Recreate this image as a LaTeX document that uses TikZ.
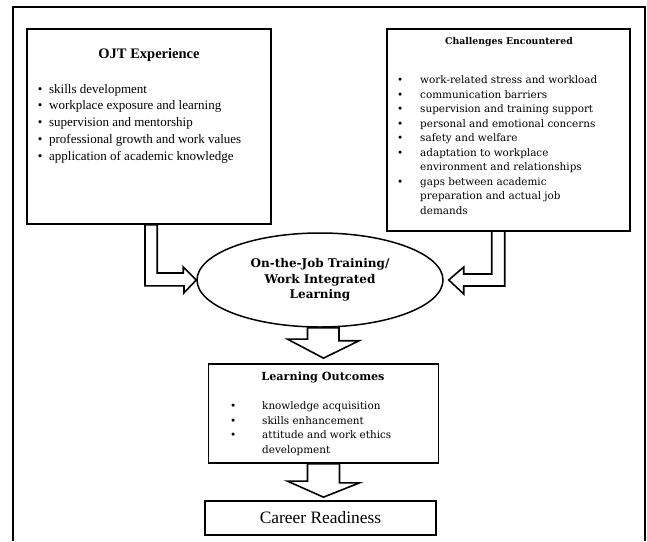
\documentclass[tikz,border=0pt]{standalone}
\usepackage{fontspec}
\setmainfont{Liberation Serif}
\newfontfamily\cambria{DejaVu Serif}
\usetikzlibrary{shapes.geometric}

\tikzset{
    panel/.style={draw, line width=1.7pt, inner sep=0pt},
    hollow/.style={draw, line width=1.6pt, line join=miter},
    label/.style={inner sep=0pt},
    itemlist/.style={inner sep=0pt, anchor=base west},
}

\begin{document}
\begin{tikzpicture}[x=1pt, y=-1pt]
    \useasboundingbox (0,0) rectangle (647,541);

    % Frame
    \draw[line width=1.2pt] (13,541) -- (13,7) -- (645,7) -- (645,541);

    % OJT experience
    \node[panel, minimum width=244, minimum height=195] (ojt) at (149,126.5) {};
    \node[label, font=\bfseries\fontsize{14.5}{17}\selectfont] (ojttitle) at (149,55) {OJT Experience};
    \node[itemlist, font=\fontsize{13}{16.85}\selectfont] (ojtlist) at (37.7,93) {%
        \begin{tabular}[t]{@{}l@{\hspace{6.7pt}}l@{}}
            \textbullet & skills development\\
            \textbullet & workplace exposure and learning\\
            \textbullet & supervision and mentorship\\
            \textbullet & professional growth and work values\\
            \textbullet & application of academic knowledge
        \end{tabular}};

    % Challenges
    \node[panel, minimum width=243, minimum height=202] (chal) at (508.5,130) {};
    \node[label, font=\cambria\bfseries\fontsize{9.3}{12}\selectfont] (chaltitle) at (509,42) {Challenges Encountered};
    \node[itemlist, font=\cambria\fontsize{10.4}{14.56}\selectfont] (challist) at (397,83.5) {%
        \begin{tabular}[t]{@{}l@{\hspace{16.9pt}}l@{}}
            \textbullet & work-related stress and workload\\
            \textbullet & communication barriers\\
            \textbullet & supervision and training support\\
            \textbullet & personal and emotional concerns\\
            \textbullet & safety and welfare\\
            \textbullet & adaptation to workplace\\
                        & environment and relationships\\
            \textbullet & gaps between academic\\
                        & preparation and actual job\\
                        & demands
        \end{tabular}};

    % OJT / WIL
    \node[ellipse, draw, line width=1.5pt, inner sep=0pt, minimum width=246, minimum height=94,
          align=center, font=\cambria\bfseries\fontsize{12}{15.5}\selectfont] (wil) at (320,280)
          {On-the-Job Training/\\Work Integrated\\Learning};

    % Learning outcomes
    \node[panel, minimum width=230, minimum height=99] (lo) at (323.5,413.5) {};
    \node[label, font=\cambria\bfseries\fontsize{11.2}{13}\selectfont] (lotitle) at (323,377) {Learning Outcomes};
    \node[itemlist, font=\cambria\fontsize{10.4}{14.7}\selectfont] (lolist) at (230,409.5) {%
        \begin{tabular}[t]{@{}l@{\hspace{25.9pt}}l@{}}
            \textbullet & knowledge acquisition\\
            \textbullet & skills enhancement\\
            \textbullet & attitude and work ethics\\
                        & development
        \end{tabular}};

    % Career readiness
    \node[panel, minimum width=231, minimum height=34, font=\fontsize{17.4}{20}\selectfont] (cr) at (320.5,518) {Career Readiness};

    % Arrows
    \draw[hollow] (wil.west) -- ++(-13,-13) -- ++(0,6) -- ++(-26,0) |- (ojt.south)
        -- ++(-4,0) -- ++(0,61) -- ++(39,0) -- ++(0,7) -- cycle;
    \draw[hollow] ([xshift=5pt]wil.east) -- ++(15,-13) -- ++(0,7) -- ++(28,0) -- ++(0,-43)
        -- ++(13,0) -- ++(0,55) -- ++(-41,0) -- ++(0,8) -- cycle;
    \draw[hollow] ([yshift=5pt]lo.north) -- ++(-36,-19) -- ++(20,0) |- (wil.south)
        -- ++(19,0) -- ++(0,13) -- ++(20,0) -- cycle;
    \draw[hollow] ([xshift=3pt,yshift=3pt]cr.north) -- ++(-36,-16) -- ++(20,0) |- (lo.south)
        -- ++(16,0) -- ++(0,19) -- ++(20,0) -- cycle;

\end{tikzpicture}
\end{document}
